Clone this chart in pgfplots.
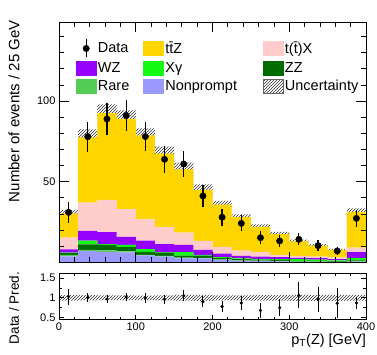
\documentclass[border=0pt]{standalone}
\usepackage{fontspec}
\setmainfont{Liberation Sans}
\usepackage{pgfplots}
\pgfplotsset{compat=1.18}
\usepackage{pgfplotstable}
\usepgfplotslibrary{fillbetween}
\usetikzlibrary{patterns}

\definecolor{cttz}{RGB}{255,213,0}
\definecolor{ctx}{RGB}{255,204,204}
\definecolor{cwz}{RGB}{150,0,255}
\definecolor{cxg}{RGB}{20,250,20}
\definecolor{czz}{RGB}{0,108,0}
\definecolor{crare}{RGB}{85,205,85}
\definecolor{cnon}{RGB}{153,153,255}

% stacked components, left bin edge (last row repeats last bin)
\pgfplotstableread{
x   non rare zz  xg  wz  tx   ttz
0   3.8 0.8  1.2 0.2 2.1 7.2  15.1
25  7.1 0.6  3.5 2.3 6.0 17.5 40.5
50  6.6 0.8  3.4 0.6 7.3 20.0 53.8
75  6.2 0.6  2.9 1.1 5.1 17.2 55.9
100 4.3 0.3  2.0 1.7 5.2 13.2 52.0
125 3.6 0.4  2.0 0.3 5.1 10.4 45.6
150 2.5 0.4  1.3 2.2 4.4 7.6  39.3
175 2.5 0.3  1.4 0.5 3.0 5.6  31.7
200 1.5 0.4  0.8 0.5 2.2 4.3  26.1
225 1.0 0.3  0.8 0.4 1.5 3.3  20.7
250 0.8 0.3  0.6 0.5 1.4 3.0  15.4
275 0.6 0.4  0.5 0.6 1.1 1.4  12.9
300 0.4 0.3  0.3 1.0 0.8 1.2  9.0
325 0.3 0.3  0.3 0.9 0.8 1.0  6.8
350 0.2 0.2  0.2 0.7 0.8 0.8  4.8
375 0.5 0.3  0.4 1.4 3.8 2.8  22.1
400 0.5 0.3  0.4 1.4 3.8 2.8  22.1
}\stacktab

\pgfplotstableread{
x   lo   hi
0   28.3 32.5
25  72.5 82.5
50  87.0 98.0
75  83.8 94.2
100 74.3 83.1
125 63.1 71.7
150 53.6 61.8
175 41.6 48.4
200 33.5 38.1
225 26.2 29.8
250 20.4 23.6
275 16.1 18.9
300 11.9 14.1
325 9.5  11.3
350 7.0  8.4
375 29.1 33.5
400 29.1 33.5
}\bandtab

\pgfplotstableread{
x     y    e
12.5  31.0 6.3
37.5  77.9 9.2
62.5  88.9 9.8
87.5  91.0 9.6
112.5 78.0 9.0
137.5 63.9 8.2
162.5 61.0 8.0
187.5 41.2 6.6
212.5 28.0 5.4
237.5 24.2 5.0
262.5 15.3 4.0
287.5 13.3 3.7
312.5 14.3 3.8
337.5 10.4 3.3
362.5 7.1  2.7
387.5 27.3 5.3
}\datatab

\pgfplotstableread{
x   lo    hi
0   0.930 1.070
25  0.935 1.065
50  0.940 1.060
75  0.940 1.060
100 0.944 1.056
125 0.936 1.064
150 0.929 1.071
175 0.925 1.075
200 0.936 1.064
225 0.936 1.064
250 0.930 1.070
275 0.930 1.070
300 0.925 1.075
325 0.925 1.075
350 0.925 1.075
375 0.930 1.070
400 0.930 1.070
}\rbandtab

\pgfplotstableread{
x     y    e
12.5  1.03 0.20
37.5  1.01 0.12
62.5  0.97 0.11
87.5  1.02 0.11
112.5 1.00 0.12
137.5 0.96 0.12
162.5 1.05 0.14
187.5 0.90 0.14
212.5 0.78 0.15
237.5 0.87 0.18
262.5 0.68 0.19
287.5 0.75 0.21
312.5 1.06 0.33
337.5 0.96 0.32
362.5 0.86 0.38
387.5 0.87 0.16
}\ratiotab

\begin{document}
\begin{tikzpicture}
\pgfplotsset{
  common/.style={
    scale only axis, width=307pt,
    xmin=0, xmax=400,
    axis line style={line width=0.9pt},
    every tick/.style={line width=0.8pt, black},
    tick align=inside,
    tick label style={font=\fontsize{11}{13}\selectfont},
    /pgf/number format/assume math mode=true,
  },
}
% ---------- stacked backgrounds ----------
\begin{axis}[common, at={(59pt,-262.4pt)}, anchor=south west,
  height=240.4pt, ymin=0, ymax=149, hide axis,
  stack plots=y, const plot]
\addplot[fill=cnon, draw=none]  table[x=x, y=non]  {\stacktab} \closedcycle;
\addplot[fill=crare, draw=none] table[x=x, y=rare] {\stacktab} \closedcycle;
\addplot[fill=czz, draw=none]   table[x=x, y=zz]   {\stacktab} \closedcycle;
\addplot[fill=cxg, draw=none]   table[x=x, y=xg]   {\stacktab} \closedcycle;
\addplot[fill=cwz, draw=none]   table[x=x, y=wz]   {\stacktab} \closedcycle;
\addplot[fill=ctx, draw=none]   table[x=x, y=tx]   {\stacktab} \closedcycle;
\addplot[fill=cttz, draw=none]  table[x=x, y=ttz]  {\stacktab} \closedcycle;
\end{axis}
% ---------- upper frame, band, data, legend ----------
\begin{axis}[common, at={(59pt,-262.4pt)}, anchor=south west,
  height=240.4pt, ymin=0, ymax=149, axis on top,
  xtick={0,100,...,400}, xticklabels={},
  minor xtick={20,40,...,380},
  ytick={50,100}, minor ytick={10,20,...,140},
  major tick length=10pt, minor tick length=5pt,
  ylabel={Number of events / 25 GeV},
  ylabel style={at={(axis description cs:-0.1466,1.008)}, anchor=east,
    inner sep=0pt, font=\fontsize{15}{18}\selectfont},
  legend columns=3, legend cell align=left,
  legend style={at={(axis description cs:0.0554,0.93)}, anchor=north west,
    draw=none, fill=none, inner sep=0pt, outer sep=0pt,
    font=\fontsize{14.5}{17}\selectfont,
    column sep=0pt, row sep=3pt,
    nodes={inner sep=1.5pt},
    /tikz/column 2/.style={column sep=12.6pt},
    /tikz/column 4/.style={column sep=24.3pt}},
  ]
\addplot[name path=bandhi, const plot, draw=none, forget plot] table[x=x, y=hi] {\bandtab};
\addplot[name path=bandlo, const plot, draw=none, forget plot] table[x=x, y=lo] {\bandtab};
\addplot[pattern=north east lines, pattern color=black!80, draw=none, forget plot]
  fill between[of=bandhi and bandlo];
\addplot[only marks, mark=*, mark size=3.2pt, black, forget plot,
  error bars/.cd, y dir=both, y explicit, error mark=none,
  error bar style={line width=1.3pt, black}]
  table[x=x, y=y, y error=e] {\datatab};
\addlegendimage{legend image code/.code={
  \draw[black, line width=1.3pt] (10pt,-9pt) -- (10pt,9pt);
  \fill[black] (10pt,0pt) circle (3.2pt);}}
\addlegendentry{Data}
\addlegendimage{legend image code/.code={\fill[cttz] (0pt,-7pt) rectangle (20pt,7pt);}}
\addlegendentry{t\=tZ}
\addlegendimage{legend image code/.code={\fill[ctx] (0pt,-7pt) rectangle (20pt,7pt);}}
\addlegendentry{t(\=t)X}
\addlegendimage{legend image code/.code={\fill[cwz] (0pt,-7pt) rectangle (20pt,7pt);}}
\addlegendentry{WZ}
\addlegendimage{legend image code/.code={\fill[cxg] (0pt,-7pt) rectangle (20pt,7pt);}}
\addlegendentry{Xγ}
\addlegendimage{legend image code/.code={\fill[czz] (0pt,-7pt) rectangle (20pt,7pt);}}
\addlegendentry{ZZ}
\addlegendimage{legend image code/.code={\fill[crare] (0pt,-7pt) rectangle (20pt,7pt);}}
\addlegendentry{Rare}
\addlegendimage{legend image code/.code={\fill[cnon] (0pt,-7pt) rectangle (20pt,7pt);}}
\addlegendentry{Nonprompt}
\addlegendimage{legend image code/.code={\draw[black!60, line width=0.6pt, pattern=north east lines, pattern color=black!80] (0pt,-7pt) rectangle (20pt,7pt);}}
\addlegendentry{Uncertainty}
\node[anchor=base west, inner sep=0pt, font=\fontsize{16}{19}\selectfont\bfseries]
  at (axis description cs:0,1.0208) {CMS};
\node[anchor=base east, inner sep=0pt, font=\fontsize{12.7}{15}\selectfont]
  at (axis description cs:1,1.025) {77.5 fb\textsuperscript{\char"2212 1} (13 TeV)};
\end{axis}
% ---------- ratio panel ----------
\begin{axis}[common, at={(59pt,-319.5pt)}, anchor=south west,
  height=46.2pt, ymin=0.45, ymax=1.62, axis on top,
  xtick={0,100,...,400}, minor xtick={20,40,...,380},
  ytick={0.5,1,1.5}, minor ytick={0.75,1.25},
  major tick length=5pt, minor tick length=3pt,
  ylabel={Data / Pred.},
  ylabel style={at={(axis description cs:-0.1466,1.03)}, anchor=east,
    inner sep=0pt, font=\fontsize{13.5}{16}\selectfont},
  xlabel={p\textsubscript{T}(Z) [GeV]},
  xlabel style={at={(axis description cs:1,-0.31)}, anchor=north east,
    inner sep=0pt, font=\fontsize{14.5}{17}\selectfont},
  ]
\addplot[name path=rhi, const plot, draw=none] table[x=x, y=hi] {\rbandtab};
\addplot[name path=rlo, const plot, draw=none] table[x=x, y=lo] {\rbandtab};
\addplot[pattern=north east lines, pattern color=black!80, draw=none]
  fill between[of=rhi and rlo];
\addplot[only marks, mark=*, mark size=1.4pt, black,
  error bars/.cd, y dir=both, y explicit, error mark=none,
  error bar style={line width=0.9pt, black}]
  table[x=x, y=y, y error=e] {\ratiotab};
\end{axis}
\pgfresetboundingbox
\useasboundingbox (0pt,0pt) rectangle (377pt,-354pt);
\end{tikzpicture}
\end{document}
